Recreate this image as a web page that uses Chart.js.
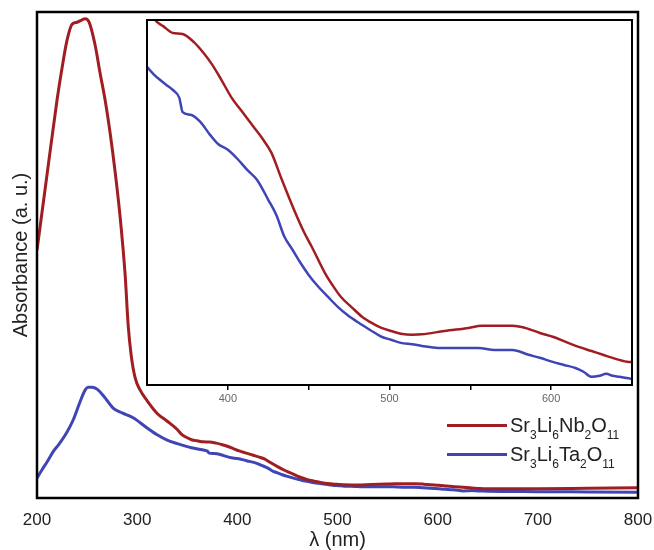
<!DOCTYPE html>
<html>
<head>
<meta charset="utf-8">
<script src="https://cdn.jsdelivr.net/npm/chart.js@4.4.1/dist/chart.umd.min.js"></script>
<style>
  body { margin: 0; background: #fff; }
  #wrap { position: relative; width: 654px; height: 550px; font-family: "Liberation Sans", Arial, sans-serif; }
  #mainChart { position: absolute; left: 0; top: 0; }
  #insetChart { position: absolute; left: 140px; top: 15px; }
  .legend { position: absolute; left: 447px; top: 411px; color: #222; }
  .legend .row { display: flex; align-items: center; height: 29px; line-height: 29px; font-size: 20px; white-space: nowrap; }
  .legend .swatch { display: inline-block; width: 60px; height: 3px; margin-right: 3px; }
  .legend sub { font-size: 12px; vertical-align: -7px; line-height: 0; }
</style>
</head>
<body>
<div id="wrap">
  <canvas id="mainChart" width="654" height="550"></canvas>
  <canvas id="insetChart" width="500" height="400"></canvas>
  <div class="legend" id="legend"></div>
</div>
<script>
// wavelengths (nm) and absorbance (a. u.) for each compound
const nbNm = [200, 210, 220, 225, 230, 235, 240, 245, 248, 252, 258, 263, 268, 273, 278, 283, 288, 291, 294, 298,
  303, 310, 320, 330, 340, 345, 350, 355, 360, 366, 372, 379, 385, 390, 396, 402, 409, 416, 422, 427,
  433, 441, 447, 452, 460, 465, 470, 477, 483, 490, 495, 501, 507, 514, 520, 534, 549, 557, 567, 576,
  586, 593, 601, 609, 617, 625, 632, 640, 648, 660, 700, 750, 800];
const nbAbs = [0.510, 0.665, 0.819, 0.885, 0.942, 0.975, 0.979, 0.984, 0.986, 0.979, 0.932, 0.874, 0.819, 0.751, 0.671, 0.578, 0.459, 0.356, 0.294, 0.247,
  0.222, 0.200, 0.174, 0.158, 0.141, 0.130, 0.124, 0.1194, 0.1176, 0.1156, 0.1153, 0.1129, 0.1097, 0.1065, 0.1018, 0.0968, 0.0923, 0.0879, 0.0841, 0.0803,
  0.0729, 0.0635, 0.0571, 0.0526, 0.0450, 0.0412, 0.0379, 0.0347, 0.0321, 0.0300, 0.0288, 0.0279, 0.0271, 0.0268, 0.0269, 0.0279, 0.0288, 0.0294, 0.0294, 0.0294,
  0.0285, 0.0273, 0.0262, 0.0247, 0.0232, 0.0220, 0.0209, 0.0197, 0.0188, 0.0188, 0.0190, 0.0200, 0.0210];

const taNm = [200, 205, 210, 216, 222, 230, 236, 243, 248, 251, 255, 260, 268, 276, 285, 296, 310, 320, 330, 340,
  350, 354, 358, 362, 366, 370, 372, 377, 383, 389, 394, 400, 406, 412, 418, 425, 430, 435, 440, 445,
  450, 456, 462, 468, 474, 481, 488, 495, 501, 507, 514, 520, 530, 542, 555, 565, 576, 586, 593, 601,
  608, 615, 620, 625, 630, 634, 638, 642, 650, 700, 750, 800];
const taAbs = [0.041, 0.058, 0.074, 0.095, 0.111, 0.136, 0.160, 0.198, 0.222, 0.228, 0.228, 0.224, 0.206, 0.185, 0.175, 0.165, 0.144, 0.130, 0.119, 0.112,
  0.1056, 0.1035, 0.1018, 0.1003, 0.0988, 0.0965, 0.0923, 0.0915, 0.0894, 0.0856, 0.0829, 0.0812, 0.0785, 0.0753, 0.0724, 0.0665, 0.0620, 0.0556, 0.0518, 0.0479,
  0.0444, 0.0409, 0.0379, 0.0350, 0.0326, 0.0303, 0.0282, 0.0262, 0.0253, 0.0244, 0.0240, 0.0235, 0.0229, 0.0229, 0.0229, 0.0223, 0.0223, 0.0209, 0.0200, 0.0188,
  0.0179, 0.0170, 0.0159, 0.0144, 0.0147, 0.0153, 0.0147, 0.0144, 0.0138, 0.0130, 0.0125, 0.0120];

const mainTicks = [200, 300, 400, 500, 600, 700, 800];
const insetTicks = [400, 450, 500, 550, 600];

const nbColor = '#a01e22';
const taColor = '#3f45b4';

// legend labels with subscripts
const legendItems = [
  { color: nbColor, html: 'Sr<sub>3</sub>Li<sub>6</sub>Nb<sub>2</sub>O<sub>11</sub>' },
  { color: taColor, html: 'Sr<sub>3</sub>Li<sub>6</sub>Ta<sub>2</sub>O<sub>11</sub>' }
];

const toPoints = (xs, ys) => xs.map((x, i) => ({ x: x, y: ys[i] }));

// black box around the plot area (optionally white-filled)
const frame = {
  id: 'frame',
  beforeDatasetsDraw(chart, args, opts) {
    if (!opts.fill) return;
    const a = chart.chartArea, ctx = chart.ctx;
    ctx.save();
    ctx.fillStyle = '#fff';
    ctx.fillRect(a.left, a.top, a.right - a.left, a.bottom - a.top);
    ctx.restore();
  },
  afterDraw(chart, args, opts) {
    const a = chart.chartArea, ctx = chart.ctx;
    ctx.save();
    ctx.strokeStyle = '#000';
    ctx.lineWidth = opts.width || 2;
    ctx.strokeRect(a.left, a.top, a.right - a.left, a.bottom - a.top);
    ctx.restore();
  }
};

function makeDatasets(width) {
  return [
    { label: 'Sr3Li6Nb2O11', data: toPoints(nbNm, nbAbs), borderColor: nbColor, borderWidth: width,
      pointRadius: 0, cubicInterpolationMode: 'monotone', fill: false },
    { label: 'Sr3Li6Ta2O11', data: toPoints(taNm, taAbs), borderColor: taColor, borderWidth: width,
      pointRadius: 0, cubicInterpolationMode: 'monotone', fill: false }
  ];
}

const fontFamily = '"Liberation Sans", Arial, sans-serif';

new Chart(document.getElementById('mainChart'), {
  type: 'line',
  data: { datasets: makeDatasets(3) },
  plugins: [frame],
  options: {
    responsive: false,
    animation: false,
    devicePixelRatio: 1,
    layout: { padding: { top: 12, right: 16, left: 0, bottom: 0 } },
    plugins: {
      legend: { display: false },
      tooltip: { enabled: false },
      frame: { width: 2.5 }
    },
    scales: {
      x: {
        type: 'linear', min: 200, max: 800,
        afterBuildTicks: s => { s.ticks = mainTicks.map(v => ({ value: v })); },
        afterFit: s => { s.height = 52; s.paddingLeft = 0; s.paddingRight = 0; },
        grid: { display: false, drawTicks: false },
        border: { display: false },
        ticks: { color: '#222', padding: 12, font: { family: fontFamily, size: 17 } },
        title: { display: true, text: 'λ (nm)', color: '#222', padding: 0,
          font: { family: fontFamily, size: 20, lineHeight: 1 } }
      },
      y: {
        min: 0, max: 1,
        afterFit: s => { s.width = 37; },
        grid: { display: false, drawTicks: false },
        border: { display: false },
        ticks: { display: false },
        title: { display: true, text: 'Absorbance (a. u.)', color: '#222', padding: { top: 9 },
          font: { family: fontFamily, size: 20, lineHeight: 1.2 } }
      }
    }
  }
});

// zoomed view of the 350-650 nm region
new Chart(document.getElementById('insetChart'), {
  type: 'line',
  data: { datasets: makeDatasets(2.5) },
  plugins: [frame],
  options: {
    responsive: false,
    animation: false,
    devicePixelRatio: 1,
    layout: { padding: { top: 5, right: 8, left: 7, bottom: 0 } },
    plugins: {
      legend: { display: false },
      tooltip: { enabled: false },
      frame: { width: 2, fill: true }
    },
    scales: {
      x: {
        type: 'linear', min: 350, max: 650,
        afterBuildTicks: s => { s.ticks = insetTicks.map(v => ({ value: v })); },
        afterFit: s => { s.height = 30; },
        grid: { drawOnChartArea: false, drawTicks: true, tickLength: 5, color: '#000', lineWidth: 1.5 },
        border: { display: false },
        ticks: {
          color: '#666', padding: 2, font: { family: fontFamily, size: 11 },
          callback: v => (v % 100 === 0 ? v : '')
        }
      },
      y: { display: false, min: 0.012, max: 0.1194 }
    }
  }
});

// legend drawn as html so the formulas keep their subscripts
document.getElementById('legend').innerHTML = legendItems.map(it =>
  '<div class="row"><span class="swatch" style="background:' + it.color + '"></span><span>' + it.html + '</span></div>'
).join('');
</script>
</body>
</html>
